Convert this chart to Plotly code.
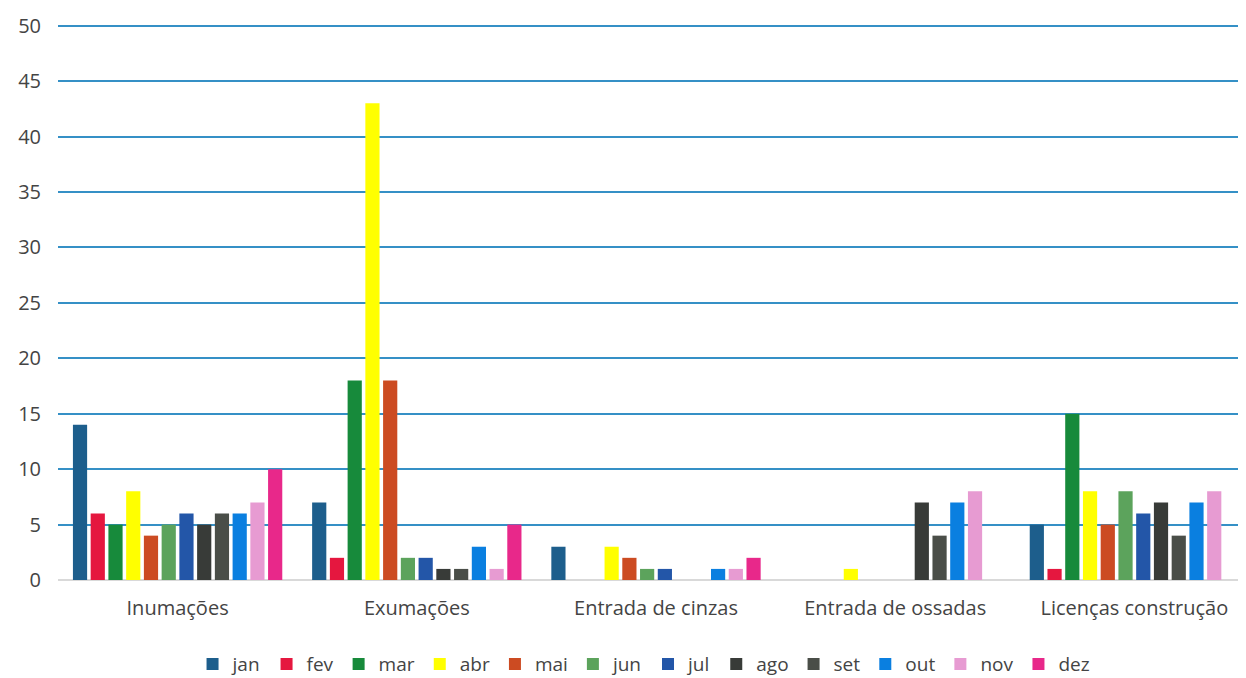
import plotly.graph_objects as go

categories = ["Inumações", "Exumações", "Entrada de cinzas", "Entrada de ossadas", "Licenças construção"]
months = ["jan", "fev", "mar", "abr", "mai", "jun", "jul", "ago", "set", "out", "nov", "dez"]

# values per month, in category order
jan = [14, 7, 3, 0, 5]
fev = [6, 2, 0, 0, 1]
mar = [5, 18, 0, 0, 15]
abr = [8, 43, 3, 1, 8]
mai = [4, 18, 2, 0, 5]
jun = [5, 2, 1, 0, 8]
jul = [6, 2, 1, 0, 6]
ago = [5, 1, 0, 7, 7]
set_ = [6, 1, 0, 4, 4]
out = [6, 3, 1, 7, 7]
nov = [7, 1, 1, 8, 8]
dez = [10, 5, 2, 0, 0]

series = [jan, fev, mar, abr, mai, jun, jul, ago, set_, out, nov, dez]
colors = ["#1d5e8c", "#e5173f", "#178a3b", "#ffff00", "#cc4b22", "#5ca35c",
          "#2356a8", "#383b38", "#4a4e48", "#0a7fe0", "#e79bd2", "#e8288a"]

fig = go.Figure()
for name, vals, col in zip(months, series, colors):
    fig.add_trace(go.Bar(x=categories, y=vals, name=name, marker_color=col,
                         marker_line_width=0))

fig.update_layout(
    width=1246, height=678,
    margin=dict(l=50, r=0, t=16, b=106),
    barmode="group", bargap=0.11, bargroupgap=0.2,
    plot_bgcolor="white", paper_bgcolor="white",
    font=dict(family="Open Sans, sans-serif", size=19, color="#444"),
    legend=dict(orientation="h", x=0.49, xanchor="center", y=-0.117, yanchor="top",
                font=dict(size=19), itemwidth=30, traceorder="normal"),
)
fig.update_yaxes(range=[0, 50.15], dtick=5, showgrid=True, gridcolor="#3590c6",
                 gridwidth=1.6, zeroline=True, zerolinecolor="#d9d9d9",
                 zerolinewidth=1.5, ticks="", ticklabelstandoff=16, automargin=False,
                 tickfont=dict(size=20, color="#444"))
fig.update_xaxes(showgrid=False, ticks="outside", ticklen=10, tickcolor="rgba(0,0,0,0)",
                 tickfont=dict(size=20, color="#444"), showline=False, automargin=False)

fig.write_html("out.html")
